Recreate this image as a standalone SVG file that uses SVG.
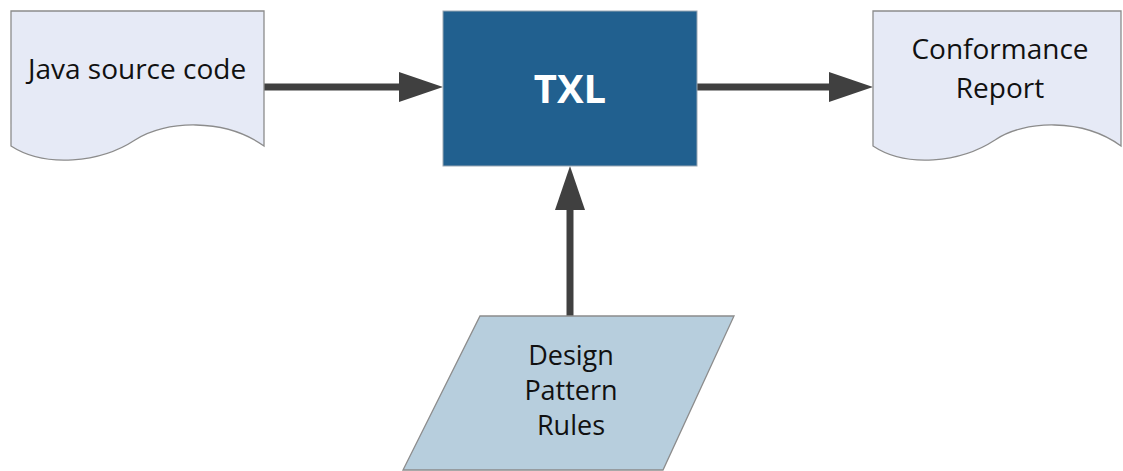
<svg xmlns="http://www.w3.org/2000/svg" width="1123" height="471" viewBox="0 0 1123 471">
<defs>
<marker id="ah" markerUnits="userSpaceOnUse" markerWidth="44" markerHeight="30" refX="0" refY="15" orient="auto">
<path d="M0,0 L44,15 L0,30 Z" fill="#404040"/>
</marker>
<style>
.doc{fill:#E6EAF6;stroke:#8C8C8C;stroke-width:1.3}
.lbl{font-family:"Open Sans","Noto Sans","DejaVu Sans",sans-serif;font-size:28px;fill:#111;text-anchor:middle}
.conn{stroke:#404040;stroke-width:7;fill:none;marker-end:url(#ah)}
</style>
</defs>
<rect width="1123" height="471" fill="#fff"/>
<g id="connectors">
<line class="conn" x1="264" y1="87" x2="399" y2="87"/>
<line class="conn" x1="697" y1="87" x2="829" y2="87"/>
<line class="conn" x1="570" y1="316" x2="570" y2="210"/>
</g>
<g id="java">
<path class="doc" d="M11,11 H264 V146 C225,118 165,120 135,140 C100,163 45,168 11,146 Z"/>
<text class="lbl" x="137" y="79">Java source code</text>
</g>
<g id="txl">
<rect x="443" y="11" width="254" height="155" fill="#21608F" stroke="#9AA7B3" stroke-width="1"/>
<text x="570" y="103" font-family="'Open Sans','Noto Sans',sans-serif" font-weight="bold" font-size="40" fill="#fff" text-anchor="middle">TXL</text>
</g>
<g id="report">
<path class="doc" d="M873,11 H1121 V146 C1083,118 1024,120 995,140 C960,163 906,168 873,146 Z"/>
<text class="lbl" x="1000" y="59">Conformance</text>
<text class="lbl" x="1000" y="98">Report</text>
</g>
<g id="rules">
<path d="M480,316 H734 L663,470 H403 Z" fill="#B7CEDD" stroke="#8C8C8C" stroke-width="1.3"/>
<text class="lbl" x="571" y="365" style="font-size:27px">Design</text>
<text class="lbl" x="571" y="400" style="font-size:27px">Pattern</text>
<text class="lbl" x="571" y="435" style="font-size:27px">Rules</text>
</g>
</svg>
